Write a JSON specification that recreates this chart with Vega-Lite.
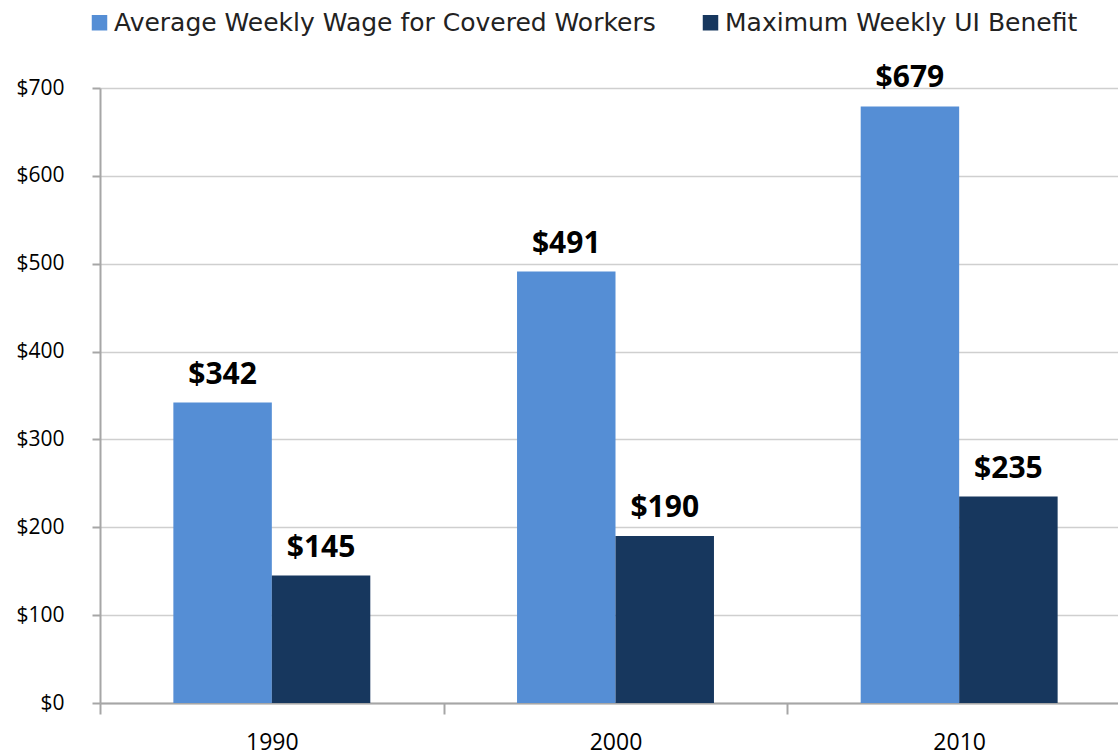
{
  "$schema": "https://vega.github.io/schema/vega-lite/v6.json",
  "width": 1018,
  "height": 615,
  "autosize": {"type": "none"},
  "padding": {"left": 100, "top": 88, "right": 0, "bottom": 52},
  "background": "white",
  "config": {"view": {"stroke": null}, "font": "Open Sans"},
  "data": {
    "values": [
      {"year": "1990", "series": "Average Weekly Wage for Covered Workers", "value": 342},
      {"year": "1990", "series": "Maximum Weekly UI Benefit", "value": 145},
      {"year": "2000", "series": "Average Weekly Wage for Covered Workers", "value": 491},
      {"year": "2000", "series": "Maximum Weekly UI Benefit", "value": 190},
      {"year": "2010", "series": "Average Weekly Wage for Covered Workers", "value": 679},
      {"year": "2010", "series": "Maximum Weekly UI Benefit", "value": 235}
    ]
  },
  "encoding": {
    "x": {
      "field": "year",
      "type": "nominal",
      "scale": {"range": [0, 1031], "paddingInner": 0, "paddingOuter": 0},
      "axis": {
        "title": null,
        "labelAngle": 0,
        "tickBand": "extent",
        "tickSize": 11,
        "tickColor": "#A6A6A6",
        "tickWidth": 2,
        "domainColor": "#A6A6A6",
        "domainWidth": 2,
        "labelPadding": 17,
        "labelFontSize": 23,
        "labelColor": "#000000",
        "labelFont": "Open Sans",
        "grid": false
      }
    },
    "xOffset": {
      "field": "series",
      "scale": {"domain": ["Average Weekly Wage for Covered Workers", "Maximum Weekly UI Benefit"], "paddingInner": 0, "paddingOuter": 0.745}
    },
    "y": {
      "field": "value",
      "type": "quantitative",
      "scale": {"domain": [0, 700], "nice": false},
      "axis": {
        "title": null,
        "values": [0, 100, 200, 300, 400, 500, 600, 700],
        "format": "$d",
        "tickSize": 8,
        "tickColor": "#A6A6A6",
        "tickWidth": 2,
        "domainColor": "#A6A6A6",
        "domainWidth": 2,
        "labelPadding": 28,
        "labelFontSize": 21,
        "labelColor": "#000000",
        "labelFont": "Open Sans",
        "gridColor": "#CFCFCF",
        "gridWidth": 1.5
      }
    }
  },
  "layer": [
    {
      "mark": {"type": "bar"},
      "encoding": {
        "color": {
          "field": "series",
          "type": "nominal",
          "scale": {"domain": ["Average Weekly Wage for Covered Workers", "Maximum Weekly UI Benefit"], "range": ["#558ED5", "#17375E"]},
          "legend": {
            "orient": "none",
            "legendX": -13,
            "legendY": -78,
            "direction": "horizontal",
            "title": null,
            "padding": 0,
            "symbolType": "square",
            "symbolSize": 240,
            "symbolStrokeWidth": 0,
            "labelFontSize": 25,
            "labelFont": "DejaVu Sans",
            "labelColor": "#222222",
            "labelOffset": 2,
            "columnPadding": 42,
            "labelLimit": 1000
          }
        }
      }
    },
    {
      "mark": {"type": "text", "dy": -19, "baseline": "alphabetic", "fontSize": 30, "fontWeight": "bold", "font": "Open Sans", "color": "#000000"},
      "encoding": {"text": {"field": "value", "type": "quantitative", "format": "$d"}}
    }
  ]
}
